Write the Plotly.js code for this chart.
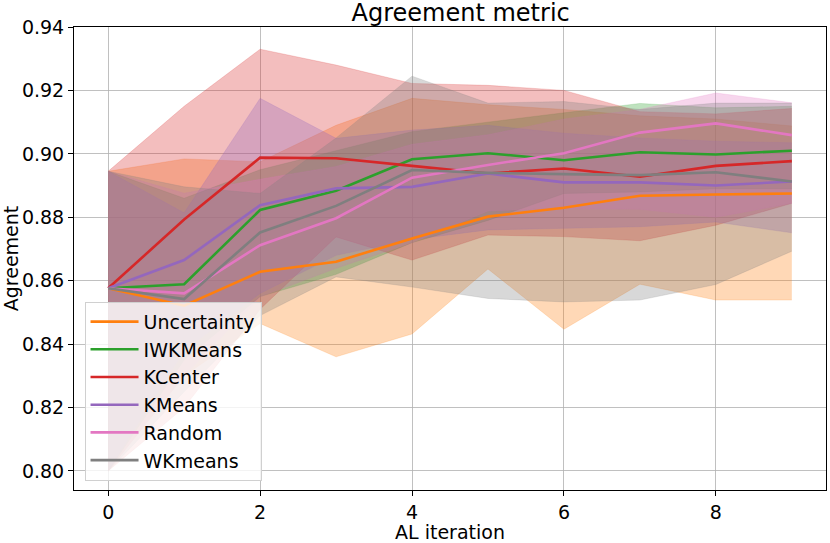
<!DOCTYPE html>
<html>
<head>
<meta charset="utf-8">
<script src="https://cdn.plot.ly/plotly-3.0.1.min.js"></script>
<style>
  html, body { margin: 0; padding: 0; background: #fff; }
  #chart { width: 830px; height: 543px; }
</style>
</head>
<body>
<div id="chart"></div>
<script>
const iterations = [0, 1, 2, 3, 4, 5, 6, 7, 8, 9];

const seriesNames = ['Uncertainty', 'IWKMeans', 'KCenter', 'KMeans', 'Random', 'WKmeans'];
const seriesColors = ['#ff7f0e', '#2ca02c', '#d62728', '#9467bd', '#e377c2', '#7f7f7f'];

// mean agreement per AL iteration
const uncertaintyMean = [0.8576, 0.8521, 0.8628, 0.8660, 0.8733, 0.8802, 0.8830, 0.8868, 0.8872, 0.8875];
const iwkmeansMean    = [0.8576, 0.8589, 0.8823, 0.8884, 0.8983, 0.9002, 0.8980, 0.9005, 0.8998, 0.9010];
const kcenterMean     = [0.8576, 0.8793, 0.8988, 0.8986, 0.8962, 0.8938, 0.8954, 0.8928, 0.8962, 0.8977];
const kmeansMean      = [0.8576, 0.8665, 0.8838, 0.8891, 0.8896, 0.8938, 0.8910, 0.8910, 0.8900, 0.8913];
const randomMean      = [0.8576, 0.8560, 0.8712, 0.8797, 0.8925, 0.8965, 0.9002, 0.9067, 0.9096, 0.9059];
const wkmeansMean     = [0.8576, 0.8542, 0.8752, 0.8836, 0.8949, 0.8940, 0.8936, 0.8933, 0.8942, 0.8913];

// lower edge of the shaded band
const uncertaintyLow = [0.8000, 0.8300, 0.8465, 0.8360, 0.8432, 0.8637, 0.8447, 0.8589, 0.8539, 0.8539];
const iwkmeansLow    = [0.8000, 0.8350, 0.8550, 0.8620, 0.8720, 0.8790, 0.8875, 0.8880, 0.8890, 0.8890];
const kcenterLow     = [0.8000, 0.8200, 0.8510, 0.8738, 0.8665, 0.8744, 0.8739, 0.8726, 0.8775, 0.8844];
const kmeansLow      = [0.8000, 0.8380, 0.8560, 0.8680, 0.8730, 0.8760, 0.8765, 0.8770, 0.8785, 0.8751];
const randomLow      = [0.8000, 0.8300, 0.8549, 0.8639, 0.8720, 0.8820, 0.8828, 0.8825, 0.8800, 0.8844];
const wkmeansLow     = [0.8000, 0.8250, 0.8490, 0.8612, 0.8580, 0.8544, 0.8533, 0.8539, 0.8588, 0.8693];

// upper edge of the shaded band
const uncertaintyHigh = [0.8945, 0.8984, 0.8975, 0.9090, 0.9175, 0.9155, 0.9140, 0.9120, 0.9110, 0.9088];
const iwkmeansHigh    = [0.8945, 0.8860, 0.8950, 0.9010, 0.9070, 0.9100, 0.9130, 0.9159, 0.9145, 0.9150];
const kcenterHigh     = [0.8945, 0.9150, 0.9330, 0.9280, 0.9222, 0.9216, 0.9200, 0.9133, 0.9126, 0.9143];
const kmeansHigh      = [0.8945, 0.8814, 0.9175, 0.9049, 0.9075, 0.9090, 0.9065, 0.9050, 0.9040, 0.9035];
const randomHigh      = [0.8945, 0.8876, 0.8920, 0.8960, 0.9030, 0.9060, 0.9110, 0.9140, 0.9192, 0.9161];
const wkmeansHigh     = [0.8945, 0.8896, 0.8875, 0.9050, 0.9245, 0.9160, 0.9165, 0.9140, 0.9160, 0.9160];

const yTicks = [0.80, 0.82, 0.84, 0.86, 0.88, 0.90, 0.92, 0.94];
const xTicks = [0, 2, 4, 6, 8];

const means = [uncertaintyMean, iwkmeansMean, kcenterMean, kmeansMean, randomMean, wkmeansMean];
const lows = [uncertaintyLow, iwkmeansLow, kcenterLow, kmeansLow, randomLow, wkmeansLow];
const highs = [uncertaintyHigh, iwkmeansHigh, kcenterHigh, kmeansHigh, randomHigh, wkmeansHigh];

const rgba = (hex, a) => {
  const n = parseInt(hex.slice(1), 16);
  return `rgba(${(n >> 16) & 255},${(n >> 8) & 255},${n & 255},${a})`;
};

const bandTraces = [];
seriesNames.forEach((name, i) => {
  bandTraces.push({
    x: iterations, y: lows[i], type: 'scatter', mode: 'lines',
    line: { width: 0.6, color: rgba(seriesColors[i], 0.3) },
    showlegend: false, hoverinfo: 'skip',
  });
  bandTraces.push({
    x: iterations, y: highs[i], type: 'scatter', mode: 'lines',
    fill: 'tonexty', fillcolor: rgba(seriesColors[i], 0.3),
    line: { width: 0.6, color: rgba(seriesColors[i], 0.3) },
    showlegend: false, hoverinfo: 'skip',
  });
});

const lineTraces = seriesNames.map((name, i) => ({
  x: iterations, y: means[i], type: 'scatter', mode: 'lines', name,
  legendgroup: name,
  line: { width: 2.6, color: seriesColors[i] },
}));

const axisCommon = {
  showline: true, mirror: true, linecolor: '#000', linewidth: 1,
  ticks: 'outside', ticklen: 5, tickcolor: '#000',
  showgrid: true, gridcolor: '#b0b0b0', gridwidth: 0.8,
  zeroline: false,
  tickfont: { size: 19, color: '#000' },
};

const layout = {
  width: 830, height: 543,
  margin: { l: 74, r: 4, t: 27, b: 53 },
  paper_bgcolor: '#fff', plot_bgcolor: '#fff',
  font: { family: 'DejaVu Sans', color: '#000' },
  title: { text: 'Agreement metric', font: { size: 24 }, x: 0.555, xanchor: 'center', y: 0.993, yanchor: 'top' },
  xaxis: Object.assign({}, axisCommon, {
    range: [-0.45, 9.45], tickvals: xTicks, automargin: true,
    title: { text: 'AL iteration', font: { size: 19 }, standoff: 0 },
  }),
  yaxis: Object.assign({}, axisCommon, {
    range: [0.794, 0.94], tickvals: yTicks, tickformat: '.2f',
    title: { text: 'Agreement', font: { size: 19 }, standoff: 2 },
  }),
  legend: {
    x: 0.014, y: 0.02, xanchor: 'left', yanchor: 'bottom',
    traceorder: 'normal', tracegroupgap: 2, itemwidth: 48,
    bgcolor: 'rgba(255,255,255,0.8)', bordercolor: '#d0d0d0', borderwidth: 1,
    font: { size: 19 },
  },
  showlegend: true,
};

Plotly.newPlot('chart', bandTraces.concat(lineTraces), layout, { displayModeBar: false, staticPlot: true });
</script>
</body>
</html>
